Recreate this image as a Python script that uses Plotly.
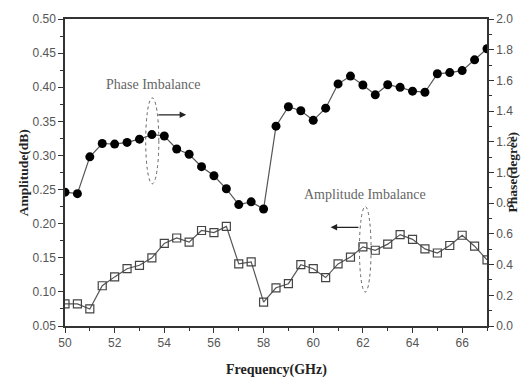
import plotly.graph_objects as go

freq = [50.0 + 0.5 * i for i in range(35)]
phase = [0.872, 0.862, 1.102, 1.189, 1.185, 1.196, 1.217, 1.247, 1.238, 1.153,
         1.119, 1.038, 0.979, 0.894, 0.791, 0.809, 0.762, 1.302, 1.428, 1.402,
         1.340, 1.419, 1.577, 1.628, 1.570, 1.506, 1.572, 1.555, 1.530, 1.523,
         1.643, 1.651, 1.664, 1.734, 1.806]
amplitude = [0.0825, 0.0825, 0.075, 0.109, 0.122, 0.134, 0.139, 0.150, 0.171, 0.179,
             0.173, 0.190, 0.187, 0.196, 0.141, 0.144, 0.085, 0.106, 0.112, 0.140,
             0.134, 0.121, 0.141, 0.151, 0.166, 0.161, 0.170, 0.184, 0.177, 0.163,
             0.157, 0.168, 0.183, 0.167, 0.147]

serif = "Liberation Serif"
sans = "Liberation Sans"
line_col = "#555555"

fig = go.Figure()
fig.add_trace(go.Scatter(
    x=freq, y=amplitude, mode="lines+markers", name="Amplitude Imbalance",
    line=dict(color=line_col, width=1.2),
    marker=dict(symbol="square-open", size=8, color="#444444", line=dict(width=1.2)),
    yaxis="y"))
fig.add_trace(go.Scatter(
    x=freq, y=phase, mode="lines+markers", name="Phase Imbalance",
    line=dict(color=line_col, width=1.2),
    marker=dict(symbol="circle", size=9, color="black"),
    yaxis="y2"))

axis_common = dict(showline=True, linecolor="#333333", linewidth=1.5, ticks="outside",
                   ticklen=5, tickwidth=1.2, tickcolor="#333333", showgrid=False,
                   zeroline=False, tickfont=dict(family=sans, size=12, color="#555555"))

fig.update_layout(
    width=526, height=378, margin=dict(l=65, r=39, t=15, b=52),
    paper_bgcolor="white", plot_bgcolor="white", showlegend=False,
    xaxis=dict(range=[50, 67], tickvals=[50, 52, 54, 56, 58, 60, 62, 64, 66],
               minor=dict(dtick=1, ticks="outside", ticklen=3, tickcolor="#333333"),
               mirror=True, **axis_common),
    yaxis=dict(range=[0.05, 0.5], dtick=0.05, tickformat=".2f",
               minor=dict(dtick=0.025, ticks="outside", ticklen=3, tickcolor="#333333"),
               **axis_common),
    yaxis2=dict(range=[0, 2], dtick=0.2, tickformat=".1f", overlaying="y", side="right",
                minor=dict(dtick=0.1, ticks="outside", ticklen=3, tickcolor="#333333"),
                **axis_common),
)

annotations = [
    dict(text="<b>Frequency(GHz)</b>", xref="paper", yref="paper", x=0.5, y=-0.11,
         yanchor="top", showarrow=False, font=dict(family=serif, size=14, color="#222")),
    dict(text="<b>Amplitude(dB)</b>", xref="paper", yref="paper", x=-0.12, y=0.5,
         textangle=-90, showarrow=False, font=dict(family=serif, size=13.5, color="#222")),
    dict(text="<b>Phase(degree)</b>", xref="paper", yref="paper", x=1.082, y=0.5,
         textangle=-90, showarrow=False, font=dict(family=serif, size=13.5, color="#222")),
    dict(text="Phase Imbalance", x=53.54, y=1.576, xref="x", yref="y2", showarrow=False,
         font=dict(family=serif, size=14, color="#666666")),
    dict(text="Amplitude Imbalance", x=62.07, y=0.855, xref="x", yref="y2", showarrow=False,
         font=dict(family=serif, size=14, color="#666666")),
    dict(x=54.88, y=1.376, ax=53.70, ay=1.376, xref="x", yref="y2", axref="x", ayref="y2",
         text="", showarrow=True, arrowhead=2, arrowsize=1, arrowwidth=1.3, arrowcolor="#222"),
    dict(x=60.70, y=0.643, ax=61.88, ay=0.643, xref="x", yref="y2", axref="x", ayref="y2",
         text="", showarrow=True, arrowhead=2, arrowsize=1, arrowwidth=1.3, arrowcolor="#222"),
]
fig.update_layout(annotations=annotations)

fig.update_layout(shapes=[
    dict(type="circle", xref="x", yref="y2", x0=53.25, x1=53.78, y0=0.926, y1=1.486,
         line=dict(color="#666666", width=1, dash="dot")),
    dict(type="circle", xref="x", yref="y2", x0=61.86, x1=62.33, y0=0.221, y1=0.778,
         line=dict(color="#666666", width=1, dash="dot")),
])

fig.write_html("out.html")
